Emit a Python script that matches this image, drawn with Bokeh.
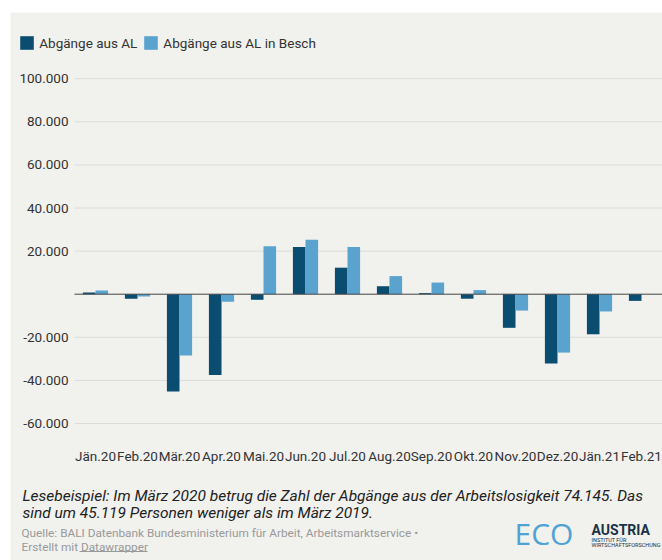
from bokeh.plotting import figure
from bokeh.models import (ColumnDataSource, Range1d, Legend, LegendItem, Label, LabelSet,
                          BoxAnnotation)
from bokeh.core.properties import value
from bokeh.transform import dodge
from bokeh.embed import file_html
from bokeh.resources import INLINE

# ---- data ----
months = ["Jän.20", "Feb.20", "Mär.20", "Apr.20", "Mai.20", "Jun.20", "Jul.20",
          "Aug.20", "Sep.20", "Okt.20", "Nov.20", "Dez.20", "Jän.21", "Feb.21"]
abgaenge_al = [800, -2100, -45119, -37500, -2600, 21900, 12300,
               3700, 500, -2100, -15600, -32100, -18600, -3100]
abgaenge_besch = [1700, -1100, -28500, -3500, 22300, 25300, 21900,
                  8400, 5400, 1900, -7600, -27100, -8000, float("nan")]
y_ticks = [-60000, -40000, -20000, 20000, 40000, 60000, 80000, 100000]
y_tick_labels = ["-60.000", "-40.000", "-20.000", "20.000", "40.000", "60.000", "80.000", "100.000"]
series_names = ["Abgänge aus AL", "Abgänge aus AL in Besch"]

note_lines = ["Lesebeispiel: Im März 2020 betrug die Zahl der Abgänge aus der Arbeitslosigkeit 74.145. Das",
              "sind um 45.119 Personen weniger als im März 2019."]
source_lines = ["Quelle: BALI Datenbank Bundesministerium für Arbeit, Arbeitsmarktservice •",
                "Erstellt mit Datawrapper"]

DARK = "#0a4d70"
LIGHT = "#5aa3cf"
BG = "#f1f1ee"
FONT = "Roboto"
TXT = "#333333"

W, H = 652, 548
n = len(months)
ky = 0.002155          # px per unit
zero_px = 281.7        # zero line, px from top
x0_px = 85             # center of first category, px from left
step = 42              # px per category

src = ColumnDataSource(dict(x=list(range(n)), al=abgaenge_al, besch=abgaenge_besch,
                            lab=months))
grid_src = ColumnDataSource(dict(y=y_ticks, lab=y_tick_labels))

p = figure(width=W, height=H, output_backend="svg", toolbar_location=None,
           x_axis_location=None, y_axis_location=None,
           x_range=Range1d(-x0_px / step, (W - x0_px) / step),
           y_range=Range1d(-(H - zero_px) / ky, zero_px / ky),
           min_border=0, background_fill_color=BG, border_fill_color=BG,
           outline_line_color=None)
p.margin = (12, 0, 0, 10)
p.grid.visible = False

# gridlines across the category bands
p.segment(x0=-0.5, x1=n - 0.5, y0="y", y1="y", source=grid_src,
          line_color="#dcdcd9", line_width=1)

r1 = p.vbar(x=dodge("x", -0.15), top="al", width=0.3, source=src,
            fill_color=DARK, line_color=None)
r2 = p.vbar(x=dodge("x", 0.15), top="besch", width=0.3, source=src,
            fill_color=LIGHT, line_color=None)

# zero baseline
p.segment(x0=[-0.5], x1=[n - 0.5], y0=[0], y1=[0], line_color="#444444", line_width=1)

# y tick labels
p.add_layout(LabelSet(x=58, y="y", text="lab", x_units="screen", source=grid_src,
                      text_align="right", text_baseline="middle", text_font=value(FONT),
                      text_font_size=value("13.5px"), text_color=TXT))
# x tick labels
p.add_layout(LabelSet(x="x", y=105, text="lab", y_units="screen", source=src,
                      text_align="center", text_baseline="middle", text_font=value(FONT),
                      text_font_size=value("13.5px"), text_color=TXT))

# legend
legend = Legend(items=[LegendItem(label=series_names[0], renderers=[r1]),
                       LegendItem(label=series_names[1], renderers=[r2])],
                orientation="horizontal", location=(8.3, 508.7),
                padding=0, margin=0, spacing=5, label_standoff=4,
                glyph_width=17, glyph_height=17,
                background_fill_alpha=0, border_line_color=None,
                label_text_font=FONT, label_text_font_size="13.5px",
                label_text_color=TXT)
p.add_layout(legend, "center")

# notes
for i, t in enumerate(note_lines):
    p.add_layout(Label(x=12, y=65 - 17 * i, x_units="screen", y_units="screen", text=t,
                       text_font=FONT, text_font_style="italic", text_font_size="15.5px",
                       text_color="#222222", text_baseline="middle"))
for i, t in enumerate(source_lines):
    p.add_layout(Label(x=11, y=28 - 14 * i, x_units="screen", y_units="screen", text=t,
                       text_font=FONT, text_font_size="11.8px",
                       text_color="#999999", text_baseline="middle"))
p.add_layout(BoxAnnotation(left=69, right=137, top=9.5, bottom=8.5,
                           left_units="screen", right_units="screen",
                           top_units="screen", bottom_units="screen",
                           fill_color="#999999", fill_alpha=1, line_color=None))

# logo
p.add_layout(Label(x=504, y=27, x_units="screen", y_units="screen", text="ECO",
                   text_font="Open Sans", text_font_size="30px", text_color="#4fa3d4",
                   text_baseline="middle"))
p.add_layout(Label(x=581, y=30.5, x_units="screen", y_units="screen", text="AUSTRIA",
                   text_font=FONT, text_font_style="bold", text_font_size="14px",
                   text_color="#1b3146", text_baseline="middle"))
for i, t in enumerate(["INSTITUT FÜR", "WIRTSCHAFTSFORSCHUNG"]):
    p.add_layout(Label(x=581, y=21 - 5 * i, x_units="screen", y_units="screen", text=t,
                       text_font=FONT, text_font_size="5.5px",
                       text_color="#1b3146", text_baseline="middle"))

open("out.html", "w").write(file_html(p, INLINE))
